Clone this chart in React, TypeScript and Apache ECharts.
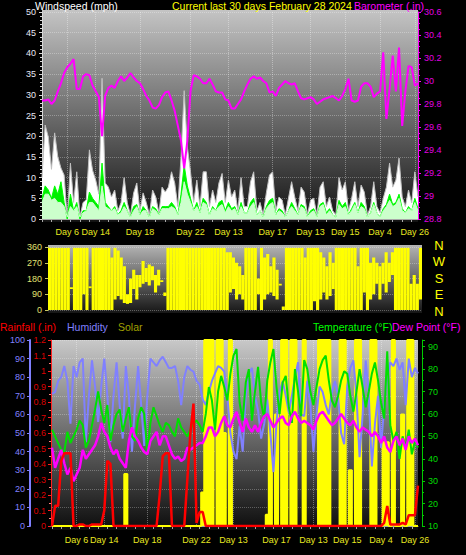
import React, { useEffect, useRef } from "react";
import * as echarts from "echarts";

const N = 120;
const categories = Array.from({ length: N }, (_, i) => String(i));
const dayLabels = ["Day 6", "Day 14", "Day 18", "Day 22", "Day 13", "Day 17", "Day 13", "Day 15", "Day 4", "Day 26"];
const dayTickIdx = [8, 17, 31, 47, 59, 73, 85, 96, 107, 118];

// Windspeed (mph)
const windGust = [
  10, 22.7, 19.8, 12, 20.8, 15, 12.3, 10.6, 0, 13.5,
  4, 11.4, 0.5, 4, 4.6, 16.7, 11.8, 9.4, 6, 34,
  8.7, 7.7, 5.3, 7, 2, 3.9, 10, 3.9, 1, 6.3,
  8.7, 2, 6.3, 4, 1, 7, 5.3, 1.5, 7.7, 6.5,
  7.7, 11.4, 8.7, 3, 15, 31, 17.4, 11.4, 4, 9.4,
  3, 11.4, 11.4, 3, 7, 4, 8.7, 11, 4, 9.4,
  5.3, 7, 2, 10, 3, 3, 9, 11.4, 2, 4,
  1, 6.3, 10.6, 11.4, 2, 5.3, 4.6, 1, 5, 9,
  5.3, 2, 7.7, 6.5, 1, 4.6, 5, 1, 7.7, 9,
  3, 5.3, 2, 1, 10, 7, 9, 2, 5, 9,
  3, 8.2, 6.5, 1, 3, 9, 3, 1.5, 5, 7.7,
  13.5, 7.7, 9.4, 14.7, 5.3, 3, 7, 3.9, 11.4, 5.3,
];
const windSpeed = [
  5, 8, 7, 5, 8, 6, 9, 4, 0, 6,
  2, 4, 0, 2, 2, 6.5, 5, 4, 3, 13.5,
  4, 3, 2, 3, 1, 2, 4, 2, 0.5, 3,
  3.5, 1, 3, 2, 0.5, 3, 2.5, 1, 3, 3,
  3, 4, 3, 1, 6, 13, 8, 5, 2, 4,
  1.5, 5, 4, 1, 3, 2, 4, 4.5, 2, 4,
  2.5, 3, 1, 4, 1.5, 1.5, 4, 5, 1, 2,
  0.5, 3, 4.5, 5, 1, 2.5, 2, 0.5, 2, 4,
  2.5, 1, 3.5, 3, 0.5, 2, 2.5, 0.5, 3.5, 4,
  1.5, 2.5, 1, 0.5, 4.5, 3, 4, 1, 2.5, 4,
  1.5, 4, 3, 0.5, 1.5, 4, 1.5, 0.5, 2.5, 3.5,
  6, 3.5, 4, 6, 2.5, 1.5, 3, 2, 5, 2.5,
];
const windAvg = [
  4, 6, 6, 4.5, 5, 4, 4, 3, 0.5, 3,
  2, 3, 0.5, 1.5, 2, 4, 4, 3, 2, 8,
  3, 2.5, 2, 2.5, 1, 1.5, 3, 2, 0.5, 2,
  3, 1, 2, 2, 0.5, 2.5, 2, 1, 2.5, 2.5,
  2.5, 3, 2.5, 1, 4, 9, 6, 4, 2, 3,
  1.5, 4, 3.5, 1, 2.5, 2, 3, 3.5, 1.5, 3,
  2, 2.5, 1, 3, 1.5, 1.5, 3, 4, 1, 2,
  0.5, 2.5, 3.5, 4, 1, 2, 1.5, 0.5, 2, 3,
  2, 1, 3, 2.5, 0.5, 1.5, 2, 0.5, 3, 3.5,
  1, 2, 1, 0.5, 3.5, 2.5, 3, 1, 2, 3.5,
  1.5, 3, 2.5, 0.5, 1.5, 3.5, 1.5, 0.5, 2, 3,
  4.5, 3, 3.5, 5, 2, 1.5, 2.5, 2, 4, 2,
];
// Barometer (in)
const barometer = [
  29.83, 29.83, 29.84, 29.8, 29.83, 29.91, 29.98, 30.07, 30.12, 30.15,
  30.19, 29.93, 29.93, 30.04, 30.06, 30.05, 29.96, 29.91, 29.86, 29.52,
  29.87, 29.94, 29.96, 29.94, 30.0, 30.04, 30.0, 30.03, 30.07, 30.03,
  30.0, 29.98, 29.93, 29.87, 29.83, 29.77, 29.76, 29.79, 29.86, 29.9,
  29.91, 29.83, 29.74, 29.61, 29.48, 29.24, 29.48, 29.91, 30.05, 30.04,
  30.02, 29.98, 29.98, 30.02, 29.97, 29.91, 29.9, 29.9, 29.84, 29.83,
  29.76, 29.76, 29.8, 29.84, 29.91, 29.97, 30.02, 30.04, 30.02, 30.03,
  30.0, 29.98, 29.9, 29.91, 29.87, 29.94, 29.97, 30.0, 29.98, 29.97,
  29.98, 29.91, 29.85, 29.84, 29.85, 29.86, 29.84, 29.8, 29.82, 29.84,
  29.85, 29.86, 29.87, 29.85, 29.83, 29.87, 29.93, 30.02, 29.83, 29.82,
  29.83, 29.95, 29.98, 29.98, 29.95, 29.86, 29.89, 29.91, 30.25, 29.67,
  29.93, 30.22, 29.91, 30.29, 29.61, 29.91, 30.13, 30.12, 29.96, 29.98,
];
// Wind direction range per sample (degrees)
const dirLo = [
  0, 0, 0, 0, 0, 0, 0, 120, 0, 0,
  0, 90, 0, 125, 0, 0, 0, 0, 0, 0,
  0, 60, 80, 60, 40, 35, 40, 120, 60, 130,
  150, 160, 140, 170, 100, 140, 160, 80, 0, 0,
  0, 0, 0, 0, 0, 0, 0, 0, 0, 0,
  0, 0, 0, 0, 0, 0, 0, 0, 100, 120,
  60, 90, 60, 0, 0, 0, 0, 90, 0, 60,
  90, 100, 80, 60, 140, 0, 0, 0, 0, 0,
  0, 0, 0, 0, 0, 50, 0, 60, 100, 60,
  80, 120, 0, 0, 0, 0, 0, 0, 0, 0,
  0, 100, 0, 60, 90, 150, 60, 150, 100, 160,
  200, 0, 0, 0, 0, 0, 0, 0, 0, 60,
];
const dirHi = [
  355, 355, 355, 355, 355, 355, 355, 130, 355, 355,
  355, 355, 355, 135, 355, 355, 355, 355, 355, 355,
  300, 355, 340, 300, 250, 90, 180, 230, 200, 200,
  280, 240, 260, 250, 200, 230, 170, 100, 355, 355,
  355, 355, 355, 355, 355, 355, 355, 355, 355, 355,
  355, 355, 355, 355, 355, 355, 355, 330, 330, 300,
  270, 250, 200, 355, 355, 355, 355, 180, 355, 300,
  320, 250, 300, 230, 150, 20, 355, 355, 355, 355,
  355, 355, 300, 355, 355, 355, 355, 330, 300, 250,
  330, 270, 355, 355, 355, 355, 355, 355, 355, 250,
  355, 355, 355, 270, 300, 270, 250, 270, 330, 270,
  330, 355, 355, 355, 355, 355, 150, 200, 150, 355,
];
// Rainfall (in)
const rainfall = [
  0, 0.13, 0.13, 0.42, 0.47, 0.47, 0.47, 0, 0, 0.01,
  0.01, 0, 0, 0.01, 0.01, 0.01, 0.01, 0.1, 0.42, 0.4,
  0, 0, 0, 0, 0, 0, 0, 0, 0, 0,
  0, 0, 0, 0, 0, 0.2, 0.45, 0.47, 0.47, 0,
  0, 0, 0, 0, 0.3, 0.6, 0.79, 0.02, 0.09, 0.09,
  0, 0, 0, 0, 0, 0, 0, 0, 0, 0,
  0, 0, 0, 0, 0, 0, 0, 0, 0, 0,
  0, 0, 0, 0, 0, 0, 0, 0, 0, 0,
  0, 0, 0, 0, 0, 0, 0, 0, 0, 0,
  0, 0, 0, 0, 0, 0, 0, 0, 0, 0,
  0, 0, 0, 0, 0, 0, 0, 0, 0.02, 0.13,
  0.01, 0.01, 0.01, 0.01, 0.02, 0.01, 0.07, 0.07, 0.07, 0.26,
];
// Humidity (%)
const humidity = [
  71, 72, 78, 80, 86, 78, 55, 86, 80, 88,
  90, 45, 70, 89, 75, 56, 75, 90, 70, 45,
  70, 88, 65, 47, 86, 70, 40, 65, 86, 65,
  43, 70, 90, 88, 86, 89, 91, 88, 85, 85,
  86, 78, 65, 80, 86, 84, 83, 78, 76, 68,
  65, 72, 78, 82, 86, 85, 83, 70, 50, 40,
  36, 54, 40, 70, 82, 85, 70, 62, 47, 55,
  68, 50, 29, 56, 72, 78, 70, 61, 70, 80,
  88, 60, 59, 78, 65, 40, 60, 75, 72, 65,
  60, 72, 78, 70, 50, 44, 75, 85, 89, 70,
  37, 60, 89, 70, 32, 55, 70, 42, 65, 80,
  88, 86, 90, 84, 88, 65, 90, 80, 85, 82,
];
// Solar (relative)
const solar = [
  0, 0, 0, 0, 0, 0, 0, 0, 0, 0,
  0, 0, 0, 0, 0, 0, 0, 0, 0, 0,
  0, 0, 0, 0, 28, 0, 0, 0, 0, 0,
  0, 0, 0, 0, 0, 0, 0, 0, 0, 0,
  0, 0, 0, 0, 0, 0, 0, 0, 0, 18,
  100, 100, 100, 0, 100, 100, 50, 0, 100, 0,
  0, 0, 0, 0, 0, 0, 0, 0, 0, 0,
  6, 100, 0, 60, 0, 100, 100, 0, 100, 100,
  0, 0, 100, 0, 0, 0, 0, 100, 100, 100,
  100, 0, 0, 0, 100, 100, 0, 30, 0, 100,
  100, 0, 0, 0, 100, 100, 0, 0, 45, 45,
  0, 100, 0, 0, 60, 0, 100, 100, 0, 0,
];
// Temperature (°F)
const temperature = [
  53, 50, 47, 44, 43, 52, 47, 50, 53, 57,
  55, 45, 48, 55, 62, 70, 62, 56, 64, 48,
  55, 60, 62, 52, 58, 63, 50, 48, 58, 63,
  60, 43, 56, 63, 59, 55, 52, 56, 55, 52,
  50, 58, 54, 52, 50, 53, 56, 57, 55, 52,
  60, 72, 66, 53, 70, 77, 72, 66, 78, 86,
  89, 65, 57, 74, 80, 57, 70, 81, 65, 58,
  75, 83, 89, 72, 60, 74, 77, 63, 56, 80,
  70, 59, 84, 80, 70, 64, 72, 80, 84, 86,
  75, 66, 63, 68, 75, 79, 78, 68, 61, 70,
  80, 72, 63, 70, 78, 83, 75, 65, 58, 88,
  55, 48, 52, 40, 50, 45, 53, 42, 48, 45,
];
// Dew Point (°F)
const dewPoint = [
  45, 36, 40, 44, 38, 33, 36, 30, 33, 36,
  44, 40, 42, 44, 46, 50, 56, 52, 50, 45,
  42, 44, 40, 38, 36, 48, 54, 50, 48, 45,
  43, 42, 48, 50, 52, 46, 50, 50, 46, 42,
  40, 41, 39, 40, 45, 44, 45, 46, 47, 47,
  50, 54, 54, 50, 52, 56, 59, 55, 54, 58,
  61, 56, 52, 58, 54, 52, 55, 52, 56, 59,
  60, 57, 54, 56, 58, 59, 56, 55, 59, 61,
  58, 56, 57, 56, 55, 53, 57, 60, 61, 59,
  57, 55, 56, 58, 60, 58, 56, 55, 57, 54,
  52, 54, 53, 52, 50, 52, 50, 47, 50, 45,
  43, 48, 50, 46, 49, 44, 50, 47, 49, 46,
];
const compassLabels = ["N", "W", "S", "E", "N"];

const FONT = '"Liberation Sans", Arial, sans-serif';

function grad(top: string, bottom: string) {
  return {
    type: "linear", x: 0, y: 0, x2: 0, y2: 1,
    colorStops: [{ offset: 0, color: top }, { offset: 1, color: bottom }],
  };
}

function dayXAxis(gridIndex: number, offset: number) {
  return {
    type: "category",
    gridIndex,
    data: categories,
    boundaryGap: false,
    offset,
    axisLine: { show: true, lineStyle: { color: "#a8a8a8", width: 1 } },
    axisTick: { show: true, interval: 2, length: 3, lineStyle: { color: "#a8a8a8" } },
    axisLabel: {
      interval: (idx: number) => dayTickIdx.includes(idx),
      formatter: (_v: string, idx: number) => {
        const k = dayTickIdx.indexOf(idx);
        return k >= 0 ? dayLabels[k] : "";
      },
      color: "#e8e820",
      fontSize: 9,
      fontFamily: FONT,
      margin: 5,
    },
    splitLine: {
      show: true,
      interval: (idx: number) => dayTickIdx.includes(idx),
      lineStyle: { color: "rgba(255,255,255,0.35)", type: "dotted" },
    },
  };
}

const oneDec = (v: number) => String(Math.round(v * 10) / 10);

export default function App() {
  const ref = useRef<HTMLDivElement>(null);
  useEffect(() => {
    if (!ref.current) return;
    const chart = echarts.init(ref.current, null, { renderer: "svg" });
    const textEl = (text: string, x: number, y: number, fill: string, size = 10.5, align = "left") => ({
      type: "text", x, y, z: 5,
      style: { text, fill, font: `${size}px ${FONT}`, align, verticalAlign: "middle" },
    });
    chart.setOption({
      animation: false,
      backgroundColor: "#000000",
      textStyle: { fontFamily: FONT },
      graphic: [
        { type: "rect", z: -10, shape: { x: 42, y: 10, width: 376, height: 212 }, style: { fill: grad("#c4c4c4", "#121212") } },
        { type: "rect", z: -10, shape: { x: 48, y: 245, width: 374, height: 68 }, style: { fill: grad("#b4b4b4", "#161616") } },
        { type: "rect", z: -10, shape: { x: 52, y: 340, width: 366, height: 190 }, style: { fill: grad("#c8c8c8", "#0c0c0c") } },
        textEl("Windspeed (mph)", 35, 6, "#ffffff"),
        textEl("Current last 30 days February 28 2024", 172, 6, "#ffff00"),
        textEl("Barometer (.in)", 424, 6, "#ff00ff", 10.5, "right"),
        textEl("Rainfall (.in)", 0, 327, "#ff0000"),
        textEl("Humidity", 67, 327, "#8080ff"),
        textEl("Solar", 118, 327, "#a0a000"),
        textEl("Temperature (°F)", 313, 327, "#00ff00"),
        textEl("Dew Point (°F)", 392, 327, "#ff00ff"),
        ...compassLabels.map((t, k) => textEl(t, 439, 245 + k * 16.5, "#ffff00", 13, "center")),
      ],
      grid: [
        { left: 42, top: 12, width: 376, height: 207 },
        { left: 48, top: 247, width: 374, height: 63 },
        { left: 52, top: 340, width: 366, height: 186 },
      ],
      xAxis: [
        dayXAxis(0, 3),
        {
          type: "category", gridIndex: 1, data: categories, boundaryGap: true,
          axisLine: { show: false }, axisTick: { show: false }, axisLabel: { show: false },
          splitLine: { show: false },
        },
        dayXAxis(2, 4),
      ],
      yAxis: [
        {
          type: "value", gridIndex: 0, position: "left", min: 0, max: 50, interval: 5,
          axisLine: { show: true, lineStyle: { color: "#d8d8d8" } },
          axisTick: { show: true, length: 3, lineStyle: { color: "#d8d8d8" } },
          minorTick: { show: true, splitNumber: 5, length: 2, lineStyle: { color: "#d8d8d8" } },
          axisLabel: { color: "#e8e8f4", fontSize: 9, margin: 6 },
          splitLine: { show: true, lineStyle: { color: "rgba(255,255,255,0.3)", type: "dotted" } },
        },
        {
          type: "value", gridIndex: 0, position: "right", min: 28.8, max: 30.6, interval: 0.2,
          axisLine: { show: true, lineStyle: { color: "#ff00ff" } },
          axisTick: { show: true, length: 3, lineStyle: { color: "#ff00ff" } },
          minorTick: { show: true, splitNumber: 4, length: 2, lineStyle: { color: "#ff00ff" } },
          axisLabel: { color: "#e000e0", fontSize: 9, margin: 6, formatter: oneDec },
          splitLine: { show: false },
        },
        {
          type: "value", gridIndex: 1, position: "left", min: 0, max: 360, interval: 90,
          axisLine: { show: true, lineStyle: { color: "#c8c860" } },
          axisTick: { show: true, length: 3, lineStyle: { color: "#c8c860" } },
          axisLabel: { color: "#e0e070", fontSize: 9, margin: 6 },
          splitLine: { show: true, lineStyle: { color: "rgba(255,255,255,0.3)", type: "dotted" } },
        },
        {
          type: "value", gridIndex: 2, position: "left", offset: 22, min: 0, max: 100, interval: 10,
          axisLine: { show: true, lineStyle: { color: "#8080ff", width: 2 } },
          axisTick: { show: true, length: 3, lineStyle: { color: "#8080ff" } },
          axisLabel: { color: "#8080ff", fontSize: 9, margin: 5 },
          splitLine: { show: true, lineStyle: { color: "rgba(255,255,255,0.28)", type: "dotted" } },
        },
        {
          type: "value", gridIndex: 2, position: "left", offset: 1, min: 0, max: 1.2, interval: 0.1,
          axisLine: { show: true, lineStyle: { color: "#ff2020", width: 1 } },
          axisTick: { show: true, length: 3, lineStyle: { color: "#ff2020" } },
          minorTick: { show: true, splitNumber: 2, length: 2, lineStyle: { color: "#ff8080" } },
          axisLabel: { color: "#dd0000", fontSize: 9, margin: 5, formatter: oneDec },
          splitLine: { show: false },
        },
        {
          type: "value", gridIndex: 2, position: "right", offset: 4, min: 10, max: 93, interval: 10,
          axisLine: { show: true, lineStyle: { color: "#00cc00" } },
          axisTick: { show: true, length: 3, lineStyle: { color: "#00cc00" } },
          minorTick: { show: true, splitNumber: 2, length: 2, lineStyle: { color: "#00cc00" } },
          axisLabel: { color: "#00dd00", fontSize: 9, margin: 6, showMaxLabel: false },
          splitLine: { show: false },
        },
        { type: "value", gridIndex: 2, min: 0, max: 100, show: false },
      ],
      series: [
        {
          name: "Gust", type: "line", xAxisIndex: 0, yAxisIndex: 0, data: windGust, showSymbol: false,
          lineStyle: { color: "#c0c0c0", width: 1 }, areaStyle: { color: "#ffffff", opacity: 1 },
        },
        {
          name: "Speed", type: "line", xAxisIndex: 0, yAxisIndex: 0, data: windSpeed, showSymbol: false,
          lineStyle: { color: "#00ff00", width: 1 }, areaStyle: { color: "#00ee00", opacity: 1 },
        },
        {
          name: "Average", type: "line", xAxisIndex: 0, yAxisIndex: 0, data: windAvg, showSymbol: false,
          lineStyle: { color: "#ccffcc", width: 1 }, areaStyle: { color: "#ccffcc", opacity: 1 },
        },
        {
          name: "Barometer", type: "line", xAxisIndex: 0, yAxisIndex: 1, data: barometer, showSymbol: false,
          lineStyle: { color: "#ff00ff", width: 2 },
        },
        {
          name: "DirBase", type: "bar", xAxisIndex: 1, yAxisIndex: 2, stack: "dir", data: dirLo,
          itemStyle: { color: "rgba(0,0,0,0)" }, barCategoryGap: "0%", silent: true,
        },
        {
          name: "Direction", type: "bar", xAxisIndex: 1, yAxisIndex: 2, stack: "dir",
          data: dirHi.map((h, i) => h - dirLo[i]),
          itemStyle: { color: "#ffff00" }, barCategoryGap: "0%",
        },
        {
          name: "Solar", type: "line", xAxisIndex: 2, yAxisIndex: 6, data: solar, showSymbol: false, step: "middle",
          lineStyle: { color: "#ffff00", width: 2 }, areaStyle: { color: "#ffff00", opacity: 1 },
        },
        {
          name: "Humidity", type: "line", xAxisIndex: 2, yAxisIndex: 3, data: humidity, showSymbol: false,
          lineStyle: { color: "#8080ff", width: 2 },
        },
        {
          name: "Temperature", type: "line", xAxisIndex: 2, yAxisIndex: 5, data: temperature, showSymbol: false,
          lineStyle: { color: "#00e000", width: 2 },
        },
        {
          name: "Dew Point", type: "line", xAxisIndex: 2, yAxisIndex: 5, data: dewPoint, showSymbol: false,
          lineStyle: { color: "#ff00ff", width: 2.5 },
        },
        {
          name: "Rainfall", type: "line", xAxisIndex: 2, yAxisIndex: 4, data: rainfall, showSymbol: false,
          lineStyle: { color: "#ff0000", width: 2.5 },
        },
      ],
    });
    return () => chart.dispose();
  }, []);
  return (
    <div
      ref={ref}
      style={{ position: "fixed", left: 0, top: 0, width: 466, height: 555, background: "#000" }}
    />
  );
}
